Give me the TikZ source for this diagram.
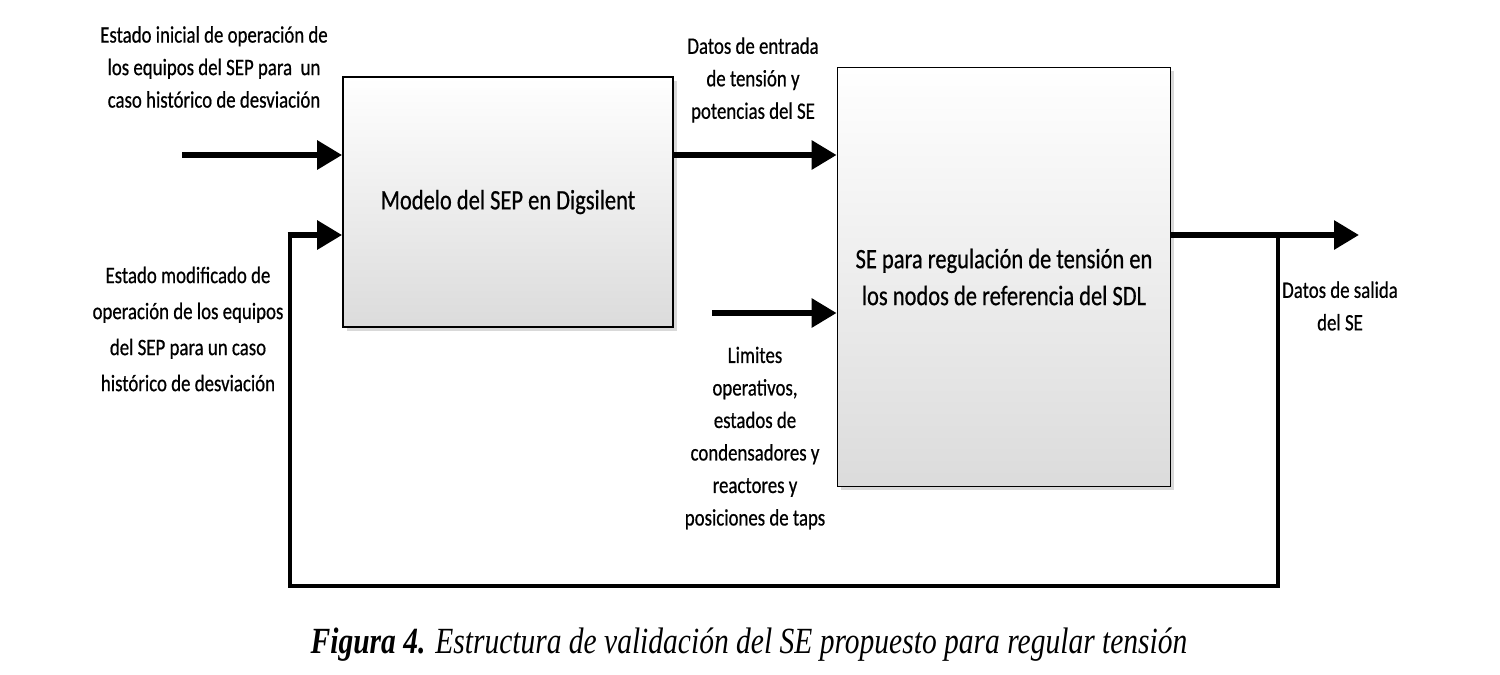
\documentclass[tikz,border=0pt]{standalone}
\usepackage{fontspec}
\setmainfont{Carlito}[FakeStretch=0.8, FakeBold=0.6]
\newfontfamily\capfont{Liberation Serif}[FakeStretch=0.8]
\usetikzlibrary{arrows.meta, shadows}

\tikzset{
	bloque/.style={draw, line width=1pt, minimum width=330*0.02cm, inner sep=0pt,
		top color=white, bottom color=gray!28, drop shadow={opacity=0.3, shadow xshift=2pt, shadow yshift=-2pt}},
	flujo/.style={line width=3.4pt, -{Triangle[length=0.5cm, width=0.56cm]}},
	lazo/.style={line width=2.8pt},
	etiqueta/.style={align=center, font=\fontsize{13.4}{18.5}\selectfont},
}

\begin{document}
\begin{tikzpicture}[x=0.02cm, y=-0.02cm]
		\useasboundingbox (0,0) rectangle (1500,674);
		% bloques
		\node[bloque, minimum width=330*0.02cm, minimum height=250*0.02cm,
			font=\fontsize{16}{21}\selectfont] (modelo) at (508,202) {Modelo del SEP en Digsilent};
		\node[bloque, minimum width=333*0.02cm, minimum height=419*0.02cm, align=center,
			font=\fontsize{16}{21}\selectfont] (se) at (1004,277) {SE para regulación de tensión en\\los nodos de referencia del SDL};
		% puntos libres
		\coordinate (ini) at (182,155);
		\coordinate (lim) at (712,313);
		\coordinate (sal) at (1359,235);
		\coordinate (rama) at (1278,235);
		\coordinate (esq) at (290,586);
		% conexiones
		\draw[flujo] (ini) -- (ini -| modelo.west);
		\draw[flujo] (modelo.east |- ini) -- (se.west |- ini);
		\draw[flujo] (lim) -- (lim -| se.west);
		\draw[flujo] (se.east |- sal) -- (sal);
		\draw[lazo, line join=miter] (rama) -- (rama |- esq) -- (esq) -- (esq |- rama);
		\draw[flujo] ([xshift=-1.4pt]esq |- rama) -- (modelo.west |- rama);
		% etiquetas
		\node[etiqueta] (txtini) at (214,67) {Estado inicial de operación de\\los equipos del SEP para \ un\\caso histórico de desviación};
		\node[etiqueta, font=\fontsize{13.4}{20.5}\selectfont] (txtmod) at (188,329) {Estado modificado de\\operación de los equipos\\del SEP para un caso\\histórico de desviación};
		\node[etiqueta] (txtent) at (753,80) {Datos de entrada\\de tensión y\\potencias del SE};
		\node[etiqueta] (txtlim) at (755,438) {Limites\\operativos,\\estados de\\condensadores y\\reactores y\\posiciones de taps};
		\node[etiqueta] (txtsal) at (1340,306) {Datos de salida\\del SE};
		% pie
		\node[font=\capfont\fontsize{21}{24}\selectfont\itshape] (pie) at (749,645) {\textbf{Figura 4.} Estructura de validación del SE propuesto para regular tensión};
\end{tikzpicture}
\end{document}
